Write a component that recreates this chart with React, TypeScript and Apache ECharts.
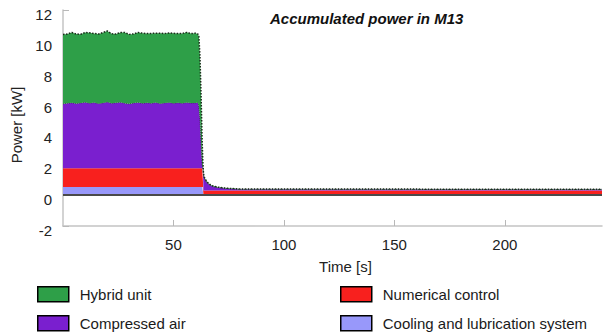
import React, { useEffect, useRef } from "react";
import * as echarts from "echarts";

const times = [0, 2, 4, 6, 8, 10, 12, 14, 16, 18, 20, 22, 24, 26, 28, 30, 32, 34, 36, 38, 40, 42, 44, 46, 48, 50, 52, 54, 56, 58, 60, 61, 61.5, 62, 62.5, 63, 63.3, 63.6, 64, 65, 66, 67, 68, 70, 72, 75, 80, 244];

const cooling = [0.52, 0.52, 0.52, 0.52, 0.52, 0.52, 0.52, 0.52, 0.52, 0.52, 0.52, 0.52, 0.52, 0.52, 0.52, 0.52, 0.52, 0.52, 0.52, 0.52, 0.52, 0.52, 0.52, 0.52, 0.52, 0.52, 0.52, 0.52, 0.52, 0.52, 0.52, 0.52, 0.52, 0.52, 0.52, 0.52, 0.52, 0, 0, 0, 0, 0, 0, 0, 0, 0, 0, 0];

const numerical = [1.22, 1.22, 1.22, 1.22, 1.22, 1.22, 1.22, 1.22, 1.22, 1.22, 1.22, 1.22, 1.22, 1.22, 1.22, 1.22, 1.22, 1.22, 1.22, 1.22, 1.22, 1.22, 1.22, 1.22, 1.22, 1.22, 1.22, 1.22, 1.22, 1.22, 1.22, 1.22, 1.22, 1.22, 1.22, 1.22, 1.22, 0.3, 0.3, 0.3, 0.3, 0.3, 0.3, 0.3, 0.3, 0.3, 0.3, 0.3];

const compressed = [4.18, 4.22, 4.25, 4.2, 4.24, 4.28, 4.22, 4.26, 4.2, 4.24, 4.3, 4.22, 4.25, 4.28, 4.22, 4.18, 4.24, 4.27, 4.21, 4.25, 4.22, 4.26, 4.2, 4.24, 4.27, 4.21, 4.25, 4.22, 4.26, 4.23, 4.24, 4.26, 4.06, 3.26, 1.76, 0.26, 0.06, 1.0, 0.8, 0.55, 0.4, 0.32, 0.26, 0.2, 0.16, 0.12, 0.08, 0.06];

const hybrid = [4.5, 4.48, 4.55, 4.5, 4.45, 4.52, 4.56, 4.48, 4.5, 4.55, 4.6, 4.5, 4.45, 4.52, 4.58, 4.5, 4.47, 4.53, 4.55, 4.48, 4.52, 4.5, 4.56, 4.49, 4.5, 4.54, 4.48, 4.52, 4.55, 4.5, 4.52, 4.45, 4.5, 4.0, 3.0, 1.5, 0.4, 0.1, 0.05, 0.05, 0.04, 0.03, 0.03, 0.02, 0.02, 0.02, 0.02, 0.02];

const names = ["Cooling and lubrication system", "Numerical control", "Compressed air", "Hybrid unit"];
const colors = ["#9898FA", "#F8201E", "#7A1FCF", "#2E9F48"];

const FONT = "'Liberation Sans', Arial, sans-serif";

export default function App() {
  const ref = useRef<HTMLDivElement>(null);
  useEffect(() => {
    if (!ref.current) return;
    const chart = echarts.init(ref.current, null, { renderer: "svg" });
    const seriesValues = [cooling, numerical, compressed, hybrid];
    const lineStyles = [
      { width: 0 },
      { width: 0 },
      { color: "#2b3b2b", width: 1, type: "dotted" },
      { color: "#1b2b1b", width: 1.5, type: "dotted" },
    ];
    const series: any[] = seriesValues.map((vals, i) => ({
      name: names[i],
      type: "line",
      stack: "total",
      showSymbol: false,
      symbol: "none",
      encode: { x: 1, y: 0 },
      data: times.map((t, j) => [vals[j], t]),
      lineStyle: lineStyles[i],
      itemStyle: { color: colors[i], borderColor: "#000", borderWidth: 1.5 },
      areaStyle: { color: colors[i], opacity: 1 },
      z: 2 + i,
    }));
    series[0].markLine = {
      silent: true,
      symbol: "none",
      label: { show: false },
      lineStyle: { color: "#4a4a4a", width: 2, type: "solid" },
      data: [{ yAxis: 0 }],
      z: 10,
    };
    const legendPos = [
      { name: "Hybrid unit", left: 37, top: 286 },
      { name: "Compressed air", left: 37, top: 315 },
      { name: "Numerical control", left: 340, top: 286 },
      { name: "Cooling and lubrication system", left: 340, top: 315 },
    ];
    const legend = legendPos.map((p) => ({
      left: p.left,
      top: p.top,
      padding: 0,
      itemWidth: 31,
      itemHeight: 15,
      icon: "rect",
      data: [p.name],
      textStyle: { fontFamily: FONT, fontSize: 15, color: "#1a1a1a", padding: [0, 0, 0, 6] },
      itemStyle: { borderColor: "#000", borderWidth: 1.5 },
    }));
    chart.setOption({
      animation: false,
      textStyle: { fontFamily: FONT },
      title: {
        text: "Accumulated power in M13",
        left: 270,
        top: 11,
        padding: 0,
        textStyle: { fontFamily: FONT, fontSize: 15, fontWeight: "bold", fontStyle: "italic", color: "#111" },
      },
      grid: { left: 63, right: 3, top: 10, bottom: 106, containLabel: false },
      xAxis: {
        type: "value",
        min: 0,
        max: 244,
        interval: 50,
        name: "Time [s]",
        nameLocation: "middle",
        nameGap: 33,
        nameTextStyle: { fontFamily: FONT, fontSize: 15, color: "#222", padding: [0, 0, 0, 26] },
        axisLine: { onZero: false, lineStyle: { color: "#c4c4c4", width: 1.5 } },
        axisTick: { inside: true, length: 6, lineStyle: { color: "#b8b8b8", width: 1 } },
        axisLabel: { showMinLabel: false, showMaxLabel: false, margin: 11, fontSize: 15, color: "#222", fontFamily: FONT },
        splitLine: { show: false },
      },
      yAxis: {
        type: "value",
        min: -2,
        max: 12,
        interval: 2,
        name: "Power [kW]",
        nameLocation: "middle",
        nameGap: 26,
        nameTextStyle: { fontFamily: FONT, fontSize: 15, color: "#222", padding: [0, 14, 0, 0] },
        axisLine: { show: true, lineStyle: { color: "#c4c4c4", width: 1.5 } },
        axisTick: { show: true, inside: true, length: 6, lineStyle: { color: "#b8b8b8", width: 1 } },
        axisLabel: { margin: 11, fontSize: 15, color: "#222", fontFamily: FONT, verticalAlign: "top", lineHeight: 9 },
        splitLine: { show: false },
      },
      legend,
      series,
    });
    return () => chart.dispose();
  }, []);
  return (
    <div
      ref={ref}
      style={{ position: "fixed", left: 0, top: 0, width: 605, height: 332, background: "#fff" }}
    />
  );
}
